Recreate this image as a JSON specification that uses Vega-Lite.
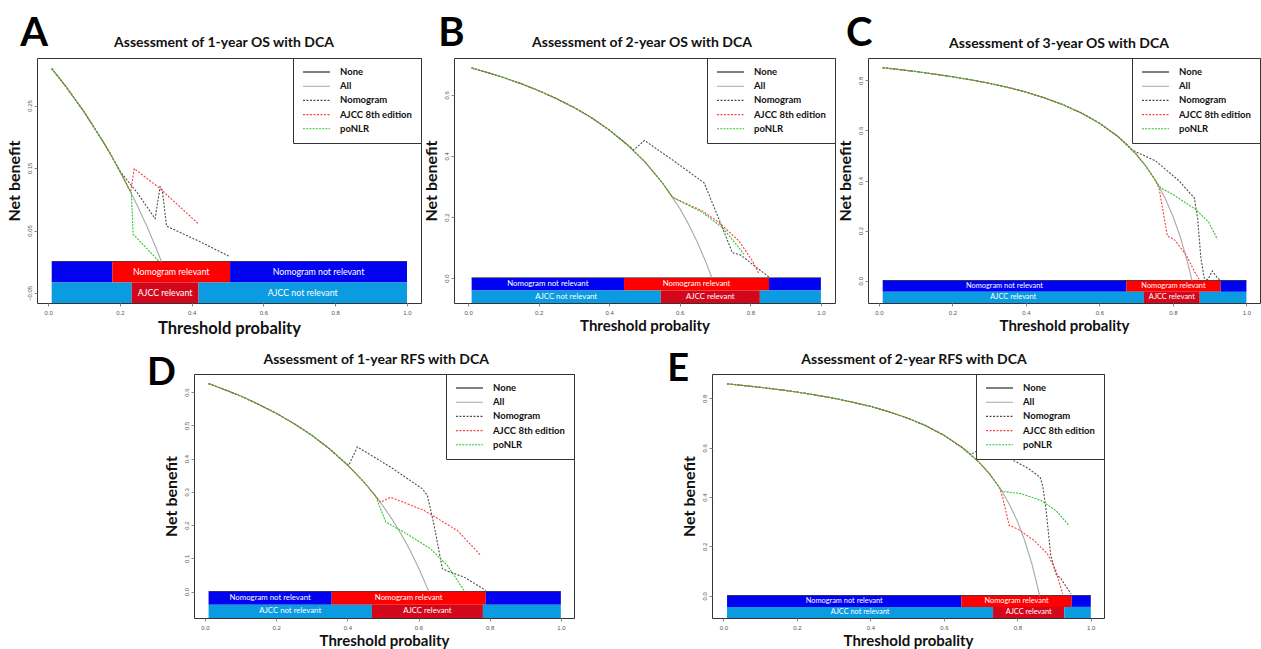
{
"$schema": "https://vega.github.io/schema/vega-lite/v6.json",
"background": "white",
"padding": {"left": 5, "top": 13, "right": 0, "bottom": 0},
"config": {
  "font": "Lato",
  "view": {"stroke": "#333", "strokeWidth": 1},
  "axis": {"domain": false, "grid": false, "ticks": true, "tickSize": 3, "tickColor": "#888", "labelFontSize": 6, "labelColor": "#555", "labelFont": "Liberation Sans", "labelOverlap": false, "labelFlush": false, "titleFont": "Lato", "titleFontWeight": "bold", "titleColor": "#111"},
  "axisX": {"labelPadding": 3, "titleFontSize": 15, "titlePadding": 3},
  "axisY": {"labelAngle": -90, "labelAlign": "center", "labelBaseline": "bottom", "labelPadding": 2, "titleFontSize": 16, "titlePadding": 4},
  "legend": {"orient": "top-right", "offset": 0, "padding": 9, "strokeColor": "#333", "fillColor": "white", "symbolType": "stroke", "symbolSize": 729, "symbolStrokeWidth": 1.2, "clipHeight": 10, "rowPadding": 4.2, "labelOffset": 9, "labelFontSize": 9.5, "labelFont": "Lato", "labelFontWeight": "bold", "labelColor": "#111", "cornerRadius": 0},
  "line": {"strokeWidth": 1.1}
},
"datasets": {
  "curvesA": [
    {"s":"None","x":0.01,"y":0},{"s":"None","x":1,"y":0},
    {"s":"All","x":0.01,"y":0.309},{"s":"All","x":0.05,"y":0.28},{"s":"All","x":0.1,"y":0.24},{"s":"All","x":0.15,"y":0.195},{"s":"All","x":0.175,"y":0.171},{"s":"All","x":0.2,"y":0.145},{"s":"All","x":0.225,"y":0.117},{"s":"All","x":0.25,"y":0.088},{"s":"All","x":0.275,"y":0.057},{"s":"All","x":0.3,"y":0.023},{"s":"All","x":0.316,"y":0},
    {"s":"Nomogram","x":0.01,"y":0.309},{"s":"Nomogram","x":0.05,"y":0.28},{"s":"Nomogram","x":0.1,"y":0.24},{"s":"Nomogram","x":0.15,"y":0.195},{"s":"Nomogram","x":0.175,"y":0.171},{"s":"Nomogram","x":0.2,"y":0.145},{"s":"Nomogram","x":0.249,"y":0.11},{"s":"Nomogram","x":0.298,"y":0.069},{"s":"Nomogram","x":0.312,"y":0.12},{"s":"Nomogram","x":0.318,"y":0.115},{"s":"Nomogram","x":0.33,"y":0.057},{"s":"Nomogram","x":0.42,"y":0.033},{"s":"Nomogram","x":0.507,"y":0.008},
    {"s":"AJCC 8th edition","x":0.01,"y":0.309},{"s":"AJCC 8th edition","x":0.05,"y":0.28},{"s":"AJCC 8th edition","x":0.1,"y":0.24},{"s":"AJCC 8th edition","x":0.15,"y":0.195},{"s":"AJCC 8th edition","x":0.175,"y":0.171},{"s":"AJCC 8th edition","x":0.2,"y":0.145},{"s":"AJCC 8th edition","x":0.225,"y":0.117},{"s":"AJCC 8th edition","x":0.23,"y":0.112},{"s":"AJCC 8th edition","x":0.24,"y":0.149},{"s":"AJCC 8th edition","x":0.31,"y":0.118},{"s":"AJCC 8th edition","x":0.42,"y":0.06},
    {"s":"poNLR","x":0.01,"y":0.309},{"s":"poNLR","x":0.05,"y":0.28},{"s":"poNLR","x":0.1,"y":0.24},{"s":"poNLR","x":0.15,"y":0.195},{"s":"poNLR","x":0.175,"y":0.171},{"s":"poNLR","x":0.2,"y":0.145},{"s":"poNLR","x":0.225,"y":0.117},{"s":"poNLR","x":0.232,"y":0.11},{"s":"poNLR","x":0.237,"y":0.044},{"s":"poNLR","x":0.31,"y":0}
  ],
  "curvesB": [
    {"s":"None","x":0.01,"y":0},{"s":"None","x":1,"y":0},
    {"s":"All","x":0.01,"y":0.688},{"s":"All","x":0.05,"y":0.675},{"s":"All","x":0.1,"y":0.657},{"s":"All","x":0.15,"y":0.637},{"s":"All","x":0.2,"y":0.614},{"s":"All","x":0.25,"y":0.588},{"s":"All","x":0.3,"y":0.559},{"s":"All","x":0.35,"y":0.525},{"s":"All","x":0.4,"y":0.485},{"s":"All","x":0.45,"y":0.438},{"s":"All","x":0.5,"y":0.382},{"s":"All","x":0.55,"y":0.313},{"s":"All","x":0.6,"y":0.228},{"s":"All","x":0.625,"y":0.176},{"s":"All","x":0.65,"y":0.117},{"s":"All","x":0.675,"y":0.049},{"s":"All","x":0.691,"y":0},
    {"s":"Nomogram","x":0.01,"y":0.688},{"s":"Nomogram","x":0.05,"y":0.675},{"s":"Nomogram","x":0.1,"y":0.657},{"s":"Nomogram","x":0.15,"y":0.637},{"s":"Nomogram","x":0.2,"y":0.614},{"s":"Nomogram","x":0.25,"y":0.588},{"s":"Nomogram","x":0.3,"y":0.559},{"s":"Nomogram","x":0.35,"y":0.525},{"s":"Nomogram","x":0.4,"y":0.485},{"s":"Nomogram","x":0.45,"y":0.438},{"s":"Nomogram","x":0.47,"y":0.42},{"s":"Nomogram","x":0.5,"y":0.451},{"s":"Nomogram","x":0.584,"y":0.383},{"s":"Nomogram","x":0.669,"y":0.312},{"s":"Nomogram","x":0.712,"y":0.19},{"s":"Nomogram","x":0.749,"y":0.083},{"s":"Nomogram","x":0.773,"y":0.075},{"s":"Nomogram","x":0.806,"y":0.045},{"s":"Nomogram","x":0.853,"y":0.003},
    {"s":"AJCC 8th edition","x":0.01,"y":0.688},{"s":"AJCC 8th edition","x":0.05,"y":0.675},{"s":"AJCC 8th edition","x":0.1,"y":0.657},{"s":"AJCC 8th edition","x":0.15,"y":0.637},{"s":"AJCC 8th edition","x":0.2,"y":0.614},{"s":"AJCC 8th edition","x":0.25,"y":0.588},{"s":"AJCC 8th edition","x":0.3,"y":0.559},{"s":"AJCC 8th edition","x":0.35,"y":0.525},{"s":"AJCC 8th edition","x":0.4,"y":0.485},{"s":"AJCC 8th edition","x":0.45,"y":0.438},{"s":"AJCC 8th edition","x":0.5,"y":0.382},{"s":"AJCC 8th edition","x":0.55,"y":0.313},{"s":"AJCC 8th edition","x":0.58,"y":0.264},{"s":"AJCC 8th edition","x":0.664,"y":0.22},{"s":"AJCC 8th edition","x":0.712,"y":0.181},{"s":"AJCC 8th edition","x":0.768,"y":0.121},{"s":"AJCC 8th edition","x":0.806,"y":0.056},{"s":"AJCC 8th edition","x":0.825,"y":0.012},
    {"s":"poNLR","x":0.01,"y":0.688},{"s":"poNLR","x":0.05,"y":0.675},{"s":"poNLR","x":0.1,"y":0.657},{"s":"poNLR","x":0.15,"y":0.637},{"s":"poNLR","x":0.2,"y":0.614},{"s":"poNLR","x":0.25,"y":0.588},{"s":"poNLR","x":0.3,"y":0.559},{"s":"poNLR","x":0.35,"y":0.525},{"s":"poNLR","x":0.4,"y":0.485},{"s":"poNLR","x":0.45,"y":0.438},{"s":"poNLR","x":0.5,"y":0.382},{"s":"poNLR","x":0.55,"y":0.313},{"s":"poNLR","x":0.58,"y":0.264},{"s":"poNLR","x":0.664,"y":0.215},{"s":"poNLR","x":0.721,"y":0.165},{"s":"poNLR","x":0.768,"y":0.099},{"s":"poNLR","x":0.782,"y":0.078}
  ],
  "curvesC": [
    {"s":"None","x":0.01,"y":0},{"s":"None","x":1,"y":0},
    {"s":"All","x":0.01,"y":0.85},{"s":"All","x":0.05,"y":0.844},{"s":"All","x":0.1,"y":0.835},{"s":"All","x":0.15,"y":0.825},{"s":"All","x":0.2,"y":0.814},{"s":"All","x":0.25,"y":0.802},{"s":"All","x":0.3,"y":0.788},{"s":"All","x":0.35,"y":0.772},{"s":"All","x":0.4,"y":0.753},{"s":"All","x":0.45,"y":0.73},{"s":"All","x":0.5,"y":0.703},{"s":"All","x":0.55,"y":0.67},{"s":"All","x":0.6,"y":0.629},{"s":"All","x":0.65,"y":0.576},{"s":"All","x":0.675,"y":0.543},{"s":"All","x":0.7,"y":0.505},{"s":"All","x":0.725,"y":0.46},{"s":"All","x":0.75,"y":0.406},{"s":"All","x":0.765,"y":0.368},{"s":"All","x":0.78,"y":0.325},{"s":"All","x":0.8,"y":0.258},{"s":"All","x":0.82,"y":0.175},{"s":"All","x":0.84,"y":0.072},{"s":"All","x":0.852,"y":0},
    {"s":"Nomogram","x":0.01,"y":0.85},{"s":"Nomogram","x":0.05,"y":0.844},{"s":"Nomogram","x":0.1,"y":0.835},{"s":"Nomogram","x":0.15,"y":0.825},{"s":"Nomogram","x":0.2,"y":0.814},{"s":"Nomogram","x":0.25,"y":0.802},{"s":"Nomogram","x":0.3,"y":0.788},{"s":"Nomogram","x":0.35,"y":0.772},{"s":"Nomogram","x":0.4,"y":0.753},{"s":"Nomogram","x":0.45,"y":0.73},{"s":"Nomogram","x":0.5,"y":0.703},{"s":"Nomogram","x":0.55,"y":0.67},{"s":"Nomogram","x":0.6,"y":0.629},{"s":"Nomogram","x":0.65,"y":0.576},{"s":"Nomogram","x":0.675,"y":0.543},{"s":"Nomogram","x":0.69,"y":0.521},{"s":"Nomogram","x":0.753,"y":0.478},{"s":"Nomogram","x":0.817,"y":0.398},{"s":"Nomogram","x":0.849,"y":0.345},{"s":"Nomogram","x":0.858,"y":0.331},{"s":"Nomogram","x":0.867,"y":0.252},{"s":"Nomogram","x":0.876,"y":0.092},{"s":"Nomogram","x":0.885,"y":0.012},{"s":"Nomogram","x":0.895,"y":0.004},{"s":"Nomogram","x":0.907,"y":0.039},{"s":"Nomogram","x":0.921,"y":0.012},{"s":"Nomogram","x":0.93,"y":0},
    {"s":"AJCC 8th edition","x":0.01,"y":0.85},{"s":"AJCC 8th edition","x":0.05,"y":0.844},{"s":"AJCC 8th edition","x":0.1,"y":0.835},{"s":"AJCC 8th edition","x":0.15,"y":0.825},{"s":"AJCC 8th edition","x":0.2,"y":0.814},{"s":"AJCC 8th edition","x":0.25,"y":0.802},{"s":"AJCC 8th edition","x":0.3,"y":0.788},{"s":"AJCC 8th edition","x":0.35,"y":0.772},{"s":"AJCC 8th edition","x":0.4,"y":0.753},{"s":"AJCC 8th edition","x":0.45,"y":0.73},{"s":"AJCC 8th edition","x":0.5,"y":0.703},{"s":"AJCC 8th edition","x":0.55,"y":0.67},{"s":"AJCC 8th edition","x":0.6,"y":0.629},{"s":"AJCC 8th edition","x":0.65,"y":0.576},{"s":"AJCC 8th edition","x":0.7,"y":0.505},{"s":"AJCC 8th edition","x":0.725,"y":0.46},{"s":"AJCC 8th edition","x":0.753,"y":0.399},{"s":"AJCC 8th edition","x":0.762,"y":0.371},{"s":"AJCC 8th edition","x":0.776,"y":0.252},{"s":"AJCC 8th edition","x":0.785,"y":0.178},{"s":"AJCC 8th edition","x":0.803,"y":0.165},{"s":"AJCC 8th edition","x":0.835,"y":0.105},{"s":"AJCC 8th edition","x":0.858,"y":0.039},{"s":"AJCC 8th edition","x":0.871,"y":0.006},
    {"s":"poNLR","x":0.01,"y":0.85},{"s":"poNLR","x":0.05,"y":0.844},{"s":"poNLR","x":0.1,"y":0.835},{"s":"poNLR","x":0.15,"y":0.825},{"s":"poNLR","x":0.2,"y":0.814},{"s":"poNLR","x":0.25,"y":0.802},{"s":"poNLR","x":0.3,"y":0.788},{"s":"poNLR","x":0.35,"y":0.772},{"s":"poNLR","x":0.4,"y":0.753},{"s":"poNLR","x":0.45,"y":0.73},{"s":"poNLR","x":0.5,"y":0.703},{"s":"poNLR","x":0.55,"y":0.67},{"s":"poNLR","x":0.6,"y":0.629},{"s":"poNLR","x":0.65,"y":0.576},{"s":"poNLR","x":0.7,"y":0.505},{"s":"poNLR","x":0.725,"y":0.46},{"s":"poNLR","x":0.753,"y":0.399},{"s":"poNLR","x":0.767,"y":0.37},{"s":"poNLR","x":0.799,"y":0.345},{"s":"poNLR","x":0.862,"y":0.285},{"s":"poNLR","x":0.898,"y":0.232},{"s":"poNLR","x":0.921,"y":0.165}
  ],
  "curvesD": [
    {"s":"None","x":0.01,"y":0},{"s":"None","x":1,"y":0},
    {"s":"All","x":0.01,"y":0.625},{"s":"All","x":0.05,"y":0.609},{"s":"All","x":0.1,"y":0.588},{"s":"All","x":0.15,"y":0.563},{"s":"All","x":0.2,"y":0.536},{"s":"All","x":0.25,"y":0.505},{"s":"All","x":0.3,"y":0.47},{"s":"All","x":0.35,"y":0.429},{"s":"All","x":0.4,"y":0.381},{"s":"All","x":0.425,"y":0.354},{"s":"All","x":0.45,"y":0.325},{"s":"All","x":0.475,"y":0.293},{"s":"All","x":0.5,"y":0.258},{"s":"All","x":0.525,"y":0.219},{"s":"All","x":0.55,"y":0.175},{"s":"All","x":0.575,"y":0.127},{"s":"All","x":0.6,"y":0.072},{"s":"All","x":0.61,"y":0.048},{"s":"All","x":0.629,"y":0},
    {"s":"Nomogram","x":0.01,"y":0.625},{"s":"Nomogram","x":0.05,"y":0.609},{"s":"Nomogram","x":0.1,"y":0.588},{"s":"Nomogram","x":0.15,"y":0.563},{"s":"Nomogram","x":0.2,"y":0.536},{"s":"Nomogram","x":0.25,"y":0.505},{"s":"Nomogram","x":0.3,"y":0.47},{"s":"Nomogram","x":0.35,"y":0.429},{"s":"Nomogram","x":0.396,"y":0.385},{"s":"Nomogram","x":0.404,"y":0.38},{"s":"Nomogram","x":0.428,"y":0.435},{"s":"Nomogram","x":0.522,"y":0.374},{"s":"Nomogram","x":0.611,"y":0.309},{"s":"Nomogram","x":0.625,"y":0.289},{"s":"Nomogram","x":0.644,"y":0.199},{"s":"Nomogram","x":0.667,"y":0.069},{"s":"Nomogram","x":0.681,"y":0.062},{"s":"Nomogram","x":0.728,"y":0.044},{"s":"Nomogram","x":0.789,"y":0.004},
    {"s":"AJCC 8th edition","x":0.01,"y":0.625},{"s":"AJCC 8th edition","x":0.05,"y":0.609},{"s":"AJCC 8th edition","x":0.1,"y":0.588},{"s":"AJCC 8th edition","x":0.15,"y":0.563},{"s":"AJCC 8th edition","x":0.2,"y":0.536},{"s":"AJCC 8th edition","x":0.25,"y":0.505},{"s":"AJCC 8th edition","x":0.3,"y":0.47},{"s":"AJCC 8th edition","x":0.35,"y":0.429},{"s":"AJCC 8th edition","x":0.4,"y":0.381},{"s":"AJCC 8th edition","x":0.425,"y":0.354},{"s":"AJCC 8th edition","x":0.45,"y":0.325},{"s":"AJCC 8th edition","x":0.475,"y":0.293},{"s":"AJCC 8th edition","x":0.48,"y":0.286},{"s":"AJCC 8th edition","x":0.494,"y":0.269},{"s":"AJCC 8th edition","x":0.522,"y":0.284},{"s":"AJCC 8th edition","x":0.616,"y":0.244},{"s":"AJCC 8th edition","x":0.709,"y":0.184},{"s":"AJCC 8th edition","x":0.775,"y":0.109},
    {"s":"poNLR","x":0.01,"y":0.625},{"s":"poNLR","x":0.05,"y":0.609},{"s":"poNLR","x":0.1,"y":0.588},{"s":"poNLR","x":0.15,"y":0.563},{"s":"poNLR","x":0.2,"y":0.536},{"s":"poNLR","x":0.25,"y":0.505},{"s":"poNLR","x":0.3,"y":0.47},{"s":"poNLR","x":0.35,"y":0.429},{"s":"poNLR","x":0.4,"y":0.381},{"s":"poNLR","x":0.425,"y":0.354},{"s":"poNLR","x":0.45,"y":0.325},{"s":"poNLR","x":0.475,"y":0.293},{"s":"poNLR","x":0.48,"y":0.286},{"s":"poNLR","x":0.508,"y":0.209},{"s":"poNLR","x":0.559,"y":0.179},{"s":"poNLR","x":0.634,"y":0.129},{"s":"poNLR","x":0.681,"y":0.079},{"s":"poNLR","x":0.728,"y":0.004}
  ],
  "curvesE": [
    {"s":"None","x":0.01,"y":0},{"s":"None","x":1,"y":0},
    {"s":"All","x":0.01,"y":0.859},{"s":"All","x":0.05,"y":0.853},{"s":"All","x":0.1,"y":0.845},{"s":"All","x":0.15,"y":0.836},{"s":"All","x":0.2,"y":0.826},{"s":"All","x":0.25,"y":0.814},{"s":"All","x":0.3,"y":0.801},{"s":"All","x":0.35,"y":0.785},{"s":"All","x":0.4,"y":0.768},{"s":"All","x":0.45,"y":0.746},{"s":"All","x":0.5,"y":0.721},{"s":"All","x":0.55,"y":0.69},{"s":"All","x":0.6,"y":0.651},{"s":"All","x":0.65,"y":0.601},{"s":"All","x":0.675,"y":0.571},{"s":"All","x":0.7,"y":0.535},{"s":"All","x":0.725,"y":0.493},{"s":"All","x":0.75,"y":0.442},{"s":"All","x":0.76,"y":0.419},{"s":"All","x":0.78,"y":0.366},{"s":"All","x":0.8,"y":0.303},{"s":"All","x":0.82,"y":0.225},{"s":"All","x":0.84,"y":0.128},{"s":"All","x":0.861,"y":0},
    {"s":"Nomogram","x":0.01,"y":0.859},{"s":"Nomogram","x":0.05,"y":0.853},{"s":"Nomogram","x":0.1,"y":0.845},{"s":"Nomogram","x":0.15,"y":0.836},{"s":"Nomogram","x":0.2,"y":0.826},{"s":"Nomogram","x":0.25,"y":0.814},{"s":"Nomogram","x":0.3,"y":0.801},{"s":"Nomogram","x":0.35,"y":0.785},{"s":"Nomogram","x":0.4,"y":0.768},{"s":"Nomogram","x":0.45,"y":0.746},{"s":"Nomogram","x":0.5,"y":0.721},{"s":"Nomogram","x":0.55,"y":0.69},{"s":"Nomogram","x":0.6,"y":0.651},{"s":"Nomogram","x":0.65,"y":0.601},{"s":"Nomogram","x":0.673,"y":0.573},{"s":"Nomogram","x":0.705,"y":0.6},{"s":"Nomogram","x":0.773,"y":0.562},{"s":"Nomogram","x":0.828,"y":0.518},{"s":"Nomogram","x":0.862,"y":0.481},{"s":"Nomogram","x":0.869,"y":0.447},{"s":"Nomogram","x":0.878,"y":0.353},{"s":"Nomogram","x":0.891,"y":0.164},{"s":"Nomogram","x":0.905,"y":0.089},{"s":"Nomogram","x":0.919,"y":0.069},{"s":"Nomogram","x":0.946,"y":0.008},
    {"s":"AJCC 8th edition","x":0.01,"y":0.859},{"s":"AJCC 8th edition","x":0.05,"y":0.853},{"s":"AJCC 8th edition","x":0.1,"y":0.845},{"s":"AJCC 8th edition","x":0.15,"y":0.836},{"s":"AJCC 8th edition","x":0.2,"y":0.826},{"s":"AJCC 8th edition","x":0.25,"y":0.814},{"s":"AJCC 8th edition","x":0.3,"y":0.801},{"s":"AJCC 8th edition","x":0.35,"y":0.785},{"s":"AJCC 8th edition","x":0.4,"y":0.768},{"s":"AJCC 8th edition","x":0.45,"y":0.746},{"s":"AJCC 8th edition","x":0.5,"y":0.721},{"s":"AJCC 8th edition","x":0.55,"y":0.69},{"s":"AJCC 8th edition","x":0.6,"y":0.651},{"s":"AJCC 8th edition","x":0.65,"y":0.601},{"s":"AJCC 8th edition","x":0.7,"y":0.535},{"s":"AJCC 8th edition","x":0.725,"y":0.493},{"s":"AJCC 8th edition","x":0.751,"y":0.44},{"s":"AJCC 8th edition","x":0.76,"y":0.4},{"s":"AJCC 8th edition","x":0.778,"y":0.285},{"s":"AJCC 8th edition","x":0.8,"y":0.272},{"s":"AJCC 8th edition","x":0.846,"y":0.224},{"s":"AJCC 8th edition","x":0.882,"y":0.17},{"s":"AJCC 8th edition","x":0.905,"y":0.103},{"s":"AJCC 8th edition","x":0.923,"y":0.008},
    {"s":"poNLR","x":0.01,"y":0.859},{"s":"poNLR","x":0.05,"y":0.853},{"s":"poNLR","x":0.1,"y":0.845},{"s":"poNLR","x":0.15,"y":0.836},{"s":"poNLR","x":0.2,"y":0.826},{"s":"poNLR","x":0.25,"y":0.814},{"s":"poNLR","x":0.3,"y":0.801},{"s":"poNLR","x":0.35,"y":0.785},{"s":"poNLR","x":0.4,"y":0.768},{"s":"poNLR","x":0.45,"y":0.746},{"s":"poNLR","x":0.5,"y":0.721},{"s":"poNLR","x":0.55,"y":0.69},{"s":"poNLR","x":0.6,"y":0.651},{"s":"poNLR","x":0.65,"y":0.601},{"s":"poNLR","x":0.7,"y":0.535},{"s":"poNLR","x":0.725,"y":0.493},{"s":"poNLR","x":0.751,"y":0.44},{"s":"poNLR","x":0.76,"y":0.423},{"s":"poNLR","x":0.81,"y":0.414},{"s":"poNLR","x":0.864,"y":0.387},{"s":"poNLR","x":0.905,"y":0.346},{"s":"poNLR","x":0.941,"y":0.285}
  ],
  "barsA": [
    {"cat":"Nomogram not relevant","x0":0.01,"x1":0.179,"ymin":-0.033,"ymax":0,"xm":0.0945,"ym":-0.0165,"label":""},
    {"cat":"Nomogram relevant","x0":0.179,"x1":0.507,"ymin":-0.033,"ymax":0,"xm":0.343,"ym":-0.0165,"label":"Nomogram relevant"},
    {"cat":"Nomogram not relevant","x0":0.507,"x1":1,"ymin":-0.033,"ymax":0,"xm":0.7535,"ym":-0.0165,"label":"Nomogram not relevant"},
    {"cat":"AJCC not relevant","x0":0.01,"x1":0.233,"ymin":-0.066,"ymax":-0.033,"xm":0.1215,"ym":-0.0495,"label":""},
    {"cat":"AJCC relevant","x0":0.233,"x1":0.419,"ymin":-0.066,"ymax":-0.033,"xm":0.326,"ym":-0.0495,"label":"AJCC relevant"},
    {"cat":"AJCC not relevant","x0":0.419,"x1":1,"ymin":-0.066,"ymax":-0.033,"xm":0.7095,"ym":-0.0495,"label":"AJCC not relevant"}
  ],
  "barsB": [
    {"cat":"Nomogram not relevant","x0":0.01,"x1":0.442,"ymin":-0.041,"ymax":0,"xm":0.226,"ym":-0.0205,"label":"Nomogram not relevant"},
    {"cat":"Nomogram relevant","x0":0.442,"x1":0.853,"ymin":-0.041,"ymax":0,"xm":0.6475,"ym":-0.0205,"label":"Nomogram relevant"},
    {"cat":"Nomogram not relevant","x0":0.853,"x1":1,"ymin":-0.041,"ymax":0,"xm":0.9265,"ym":-0.0205,"label":""},
    {"cat":"AJCC not relevant","x0":0.01,"x1":0.546,"ymin":-0.082,"ymax":-0.041,"xm":0.278,"ym":-0.0615,"label":"AJCC not relevant"},
    {"cat":"AJCC relevant","x0":0.546,"x1":0.827,"ymin":-0.082,"ymax":-0.041,"xm":0.6865,"ym":-0.0615,"label":"AJCC relevant"},
    {"cat":"AJCC not relevant","x0":0.827,"x1":1,"ymin":-0.082,"ymax":-0.041,"xm":0.9135,"ym":-0.0615,"label":""}
  ],
  "barsC": [
    {"cat":"Nomogram not relevant","x0":0.01,"x1":0.673,"ymin":-0.0445,"ymax":0,"xm":0.3415,"ym":-0.02225,"label":"Nomogram not relevant"},
    {"cat":"Nomogram relevant","x0":0.673,"x1":0.93,"ymin":-0.0445,"ymax":0,"xm":0.8015,"ym":-0.02225,"label":"Nomogram relevant"},
    {"cat":"Nomogram not relevant","x0":0.93,"x1":1,"ymin":-0.0445,"ymax":0,"xm":0.965,"ym":-0.02225,"label":""},
    {"cat":"AJCC not relevant","x0":0.01,"x1":0.721,"ymin":-0.089,"ymax":-0.0445,"xm":0.3655,"ym":-0.06675,"label":"AJCC relevant"},
    {"cat":"AJCC relevant","x0":0.721,"x1":0.873,"ymin":-0.089,"ymax":-0.0445,"xm":0.797,"ym":-0.06675,"label":"AJCC relevant"},
    {"cat":"AJCC not relevant","x0":0.873,"x1":1,"ymin":-0.089,"ymax":-0.0445,"xm":0.9365,"ym":-0.06675,"label":""}
  ],
  "barsD": [
    {"cat":"Nomogram not relevant","x0":0.01,"x1":0.356,"ymin":-0.0395,"ymax":0,"xm":0.183,"ym":-0.01975,"label":"Nomogram not relevant"},
    {"cat":"Nomogram relevant","x0":0.356,"x1":0.789,"ymin":-0.0395,"ymax":0,"xm":0.5725,"ym":-0.01975,"label":"Nomogram relevant"},
    {"cat":"Nomogram not relevant","x0":0.789,"x1":1,"ymin":-0.0395,"ymax":0,"xm":0.8945,"ym":-0.01975,"label":""},
    {"cat":"AJCC not relevant","x0":0.01,"x1":0.469,"ymin":-0.079,"ymax":-0.0395,"xm":0.2395,"ym":-0.05925,"label":"AJCC not relevant"},
    {"cat":"AJCC relevant","x0":0.469,"x1":0.781,"ymin":-0.079,"ymax":-0.0395,"xm":0.625,"ym":-0.05925,"label":"AJCC relevant"},
    {"cat":"AJCC not relevant","x0":0.781,"x1":1,"ymin":-0.079,"ymax":-0.0395,"xm":0.8905,"ym":-0.05925,"label":""}
  ],
  "barsE": [
    {"cat":"Nomogram not relevant","x0":0.01,"x1":0.648,"ymin":-0.045,"ymax":0,"xm":0.329,"ym":-0.0225,"label":"Nomogram not relevant"},
    {"cat":"Nomogram relevant","x0":0.648,"x1":0.948,"ymin":-0.045,"ymax":0,"xm":0.798,"ym":-0.0225,"label":"Nomogram relevant"},
    {"cat":"Nomogram not relevant","x0":0.948,"x1":1,"ymin":-0.045,"ymax":0,"xm":0.974,"ym":-0.0225,"label":""},
    {"cat":"AJCC not relevant","x0":0.01,"x1":0.734,"ymin":-0.09,"ymax":-0.045,"xm":0.372,"ym":-0.0675,"label":"AJCC not relevant"},
    {"cat":"AJCC relevant","x0":0.734,"x1":0.928,"ymin":-0.09,"ymax":-0.045,"xm":0.831,"ym":-0.0675,"label":"AJCC relevant"},
    {"cat":"AJCC not relevant","x0":0.928,"x1":1,"ymin":-0.09,"ymax":-0.045,"xm":0.964,"ym":-0.0675,"label":""}
  ]
},
"spacing": 13,
"resolve": {"scale": {"x": "independent", "y": "independent", "stroke": "independent", "strokeDash": "independent", "fill": "independent"}, "axis": {"x": "independent", "y": "independent"}, "legend": {"stroke": "independent", "strokeDash": "independent", "fill": "independent"}},
"vconcat": [
  {
    "bounds": "flush",
    "spacing": 33,
    "resolve": {"scale": {"x": "independent", "y": "independent", "stroke": "independent", "strokeDash": "independent", "fill": "independent"}, "axis": {"x": "independent", "y": "independent"}, "legend": {"stroke": "independent", "strokeDash": "independent", "fill": "independent"}},
    "hconcat": [
      {
        "width": 384, "height": 245,
        "layer": [
          {"data": {"name": "curvesA"}, "mark": {"type": "line"},
           "encoding": {
             "x": {"field": "x", "type": "quantitative", "scale": {"domain": [-0.031, 1.039], "nice": false, "zero": false}, "axis": {"title": "Threshold probality", "values": [0, 0.2, 0.4, 0.6, 0.8, 1], "format": ".1f", "titleFontSize": 16.5, "titlePadding": 5}},
             "y": {"field": "y", "type": "quantitative", "scale": {"domain": [-0.066, 0.326], "nice": false, "zero": false}, "axis": {"title": "Net benefit", "values": [-0.05, 0, 0.05, 0.1, 0.15, 0.2, 0.25, 0.3], "format": ".2f"}},
             "stroke": {"field": "s", "type": "nominal", "scale": {"domain": ["None", "All", "Nomogram", "AJCC 8th edition", "poNLR"], "range": ["#000000", "#a8a8a8", "#4d4d4d", "#ff3b3b", "#2bc52b"]}, "legend": {"title": null}},
             "strokeDash": {"field": "s", "type": "nominal", "scale": {"domain": ["None", "All", "Nomogram", "AJCC 8th edition", "poNLR"], "range": [[1, 0], [1, 0], [2, 1.5], [2, 1.5], [2, 1.2]]}, "legend": {"title": null}}
           }},
          {"data": {"name": "barsA"}, "mark": {"type": "rect"},
           "encoding": {
             "x": {"field": "x0", "type": "quantitative"}, "x2": {"field": "x1"},
             "y": {"field": "ymin", "type": "quantitative"}, "y2": {"field": "ymax"},
             "fill": {"field": "cat", "type": "nominal", "scale": {"domain": ["Nomogram not relevant", "Nomogram relevant", "AJCC not relevant", "AJCC relevant"], "range": ["#0202f2", "#fe0000", "#0a9be0", "#d3071c"]}, "legend": null}
           }},
          {"data": {"name": "barsA"}, "transform": [{"filter": "datum.label != ''"}],
           "mark": {"type": "text", "color": "white", "font": "Lato", "fontSize": 8.8},
           "encoding": {"x": {"field": "xm", "type": "quantitative"}, "y": {"field": "ym", "type": "quantitative"}, "text": {"field": "label"}}},
          {"data": {"values": [{"t": "Assessment of 1-year OS with DCA"}]},
           "mark": {"type": "text", "fontSize": 14, "fontWeight": "bold", "font": "Lato", "align": "center", "baseline": "alphabetic", "color": "#111"},
           "encoding": {"x": {"datum": 0.49, "type": "quantitative"}, "y": {"datum": 0.344, "type": "quantitative"}, "text": {"field": "t"}}},
          {"data": {"values": [{"letter": "A"}]},
           "mark": {"type": "text", "fontSize": 40, "fontWeight": "bold", "font": "Lato", "align": "left", "baseline": "alphabetic", "color": "#000"},
           "encoding": {"x": {"datum": -0.078, "type": "quantitative"}, "y": {"datum": 0.345, "type": "quantitative"}, "text": {"field": "letter"}}}
        ]
      },
      {
        "width": 381, "height": 245,
        "layer": [
          {"data": {"name": "curvesB"}, "mark": {"type": "line"},
           "encoding": {
             "x": {"field": "x", "type": "quantitative", "scale": {"domain": [-0.04, 1.04], "nice": false, "zero": false}, "axis": {"title": "Threshold probality", "values": [0, 0.2, 0.4, 0.6, 0.8, 1], "format": ".1f"}},
             "y": {"field": "y", "type": "quantitative", "scale": {"domain": [-0.082, 0.721], "nice": false, "zero": false}, "axis": {"title": "Net benefit", "values": [0, 0.2, 0.4, 0.6], "format": ".1f"}},
             "stroke": {"field": "s", "type": "nominal", "scale": {"domain": ["None", "All", "Nomogram", "AJCC 8th edition", "poNLR"], "range": ["#000000", "#a8a8a8", "#4d4d4d", "#ff3b3b", "#2bc52b"]}, "legend": {"title": null}},
             "strokeDash": {"field": "s", "type": "nominal", "scale": {"domain": ["None", "All", "Nomogram", "AJCC 8th edition", "poNLR"], "range": [[1, 0], [1, 0], [2, 1.5], [2, 1.5], [2, 1.2]]}, "legend": {"title": null}}
           }},
          {"data": {"name": "barsB"}, "mark": {"type": "rect"},
           "encoding": {
             "x": {"field": "x0", "type": "quantitative"}, "x2": {"field": "x1"},
             "y": {"field": "ymin", "type": "quantitative"}, "y2": {"field": "ymax"},
             "fill": {"field": "cat", "type": "nominal", "scale": {"domain": ["Nomogram not relevant", "Nomogram relevant", "AJCC not relevant", "AJCC relevant"], "range": ["#0202f2", "#fe0000", "#0a9be0", "#d3071c"]}, "legend": null}
           }},
          {"data": {"name": "barsB"}, "transform": [{"filter": "datum.label != ''"}],
           "mark": {"type": "text", "color": "white", "font": "Lato", "fontSize": 7.8},
           "encoding": {"x": {"field": "xm", "type": "quantitative"}, "y": {"field": "ym", "type": "quantitative"}, "text": {"field": "label"}}},
          {"data": {"values": [{"t": "Assessment of 2-year OS with DCA"}]},
           "mark": {"type": "text", "fontSize": 14, "fontWeight": "bold", "font": "Lato", "align": "center", "baseline": "alphabetic", "color": "#111"},
           "encoding": {"x": {"datum": 0.493, "type": "quantitative"}, "y": {"datum": 0.757, "type": "quantitative"}, "text": {"field": "t"}}},
          {"data": {"values": [{"letter": "B"}]},
           "mark": {"type": "text", "fontSize": 40, "fontWeight": "bold", "font": "Lato", "align": "left", "baseline": "alphabetic", "color": "#000"},
           "encoding": {"x": {"datum": -0.085, "type": "quantitative"}, "y": {"datum": 0.76, "type": "quantitative"}, "text": {"field": "letter"}}}
        ]
      },
      {
        "width": 392, "height": 245,
        "layer": [
          {"data": {"name": "curvesC"}, "mark": {"type": "line"},
           "encoding": {
             "x": {"field": "x", "type": "quantitative", "scale": {"domain": [-0.03, 1.037], "nice": false, "zero": false}, "axis": {"title": "Threshold probality", "values": [0, 0.2, 0.4, 0.6, 0.8, 1], "format": ".1f"}},
             "y": {"field": "y", "type": "quantitative", "scale": {"domain": [-0.089, 0.889], "nice": false, "zero": false}, "axis": {"title": "Net benefit", "values": [0, 0.2, 0.4, 0.6, 0.8], "format": ".1f"}},
             "stroke": {"field": "s", "type": "nominal", "scale": {"domain": ["None", "All", "Nomogram", "AJCC 8th edition", "poNLR"], "range": ["#000000", "#a8a8a8", "#4d4d4d", "#ff3b3b", "#2bc52b"]}, "legend": {"title": null}},
             "strokeDash": {"field": "s", "type": "nominal", "scale": {"domain": ["None", "All", "Nomogram", "AJCC 8th edition", "poNLR"], "range": [[1, 0], [1, 0], [2, 1.5], [2, 1.5], [2, 1.2]]}, "legend": {"title": null}}
           }},
          {"data": {"name": "barsC"}, "mark": {"type": "rect"},
           "encoding": {
             "x": {"field": "x0", "type": "quantitative"}, "x2": {"field": "x1"},
             "y": {"field": "ymin", "type": "quantitative"}, "y2": {"field": "ymax"},
             "fill": {"field": "cat", "type": "nominal", "scale": {"domain": ["Nomogram not relevant", "Nomogram relevant", "AJCC not relevant", "AJCC relevant"], "range": ["#0202f2", "#fe0000", "#0a9be0", "#d3071c"]}, "legend": null}
           }},
          {"data": {"name": "barsC"}, "transform": [{"filter": "datum.label != ''"}],
           "mark": {"type": "text", "color": "white", "font": "Lato", "fontSize": 7.4},
           "encoding": {"x": {"field": "xm", "type": "quantitative"}, "y": {"field": "ym", "type": "quantitative"}, "text": {"field": "label"}}},
          {"data": {"values": [{"t": "Assessment of 3-year OS with DCA"}]},
           "mark": {"type": "text", "fontSize": 14, "fontWeight": "bold", "font": "Lato", "align": "center", "baseline": "alphabetic", "color": "#111"},
           "encoding": {"x": {"datum": 0.49, "type": "quantitative"}, "y": {"datum": 0.929, "type": "quantitative"}, "text": {"field": "t"}}},
          {"data": {"values": [{"letter": "C"}]},
           "mark": {"type": "text", "fontSize": 40, "fontWeight": "bold", "font": "Lato", "align": "left", "baseline": "alphabetic", "color": "#000"},
           "encoding": {"x": {"datum": -0.09, "type": "quantitative"}, "y": {"datum": 0.937, "type": "quantitative"}, "text": {"field": "letter"}}}
        ]
      }
    ]
  },
  {
    "bounds": "flush",
    "spacing": 138,
    "resolve": {"scale": {"x": "independent", "y": "independent", "stroke": "independent", "strokeDash": "independent", "fill": "independent"}, "axis": {"x": "independent", "y": "independent"}, "legend": {"stroke": "independent", "strokeDash": "independent", "fill": "independent"}},
    "hconcat": [
      {"width": 19, "height": 244, "view": {"stroke": null}, "data": {"values": []}, "mark": "point", "encoding": {}},
      {
        "width": 380, "height": 244,
        "layer": [
          {"data": {"name": "curvesD"}, "mark": {"type": "line"},
           "encoding": {
             "x": {"field": "x", "type": "quantitative", "scale": {"domain": [-0.031, 1.037], "nice": false, "zero": false}, "axis": {"title": "Threshold probality", "values": [0, 0.2, 0.4, 0.6, 0.8, 1], "format": ".1f"}},
             "y": {"field": "y", "type": "quantitative", "scale": {"domain": [-0.079, 0.654], "nice": false, "zero": false}, "axis": {"title": "Net benefit", "values": [0, 0.1, 0.2, 0.3, 0.4, 0.5, 0.6], "format": ".1f"}},
             "stroke": {"field": "s", "type": "nominal", "scale": {"domain": ["None", "All", "Nomogram", "AJCC 8th edition", "poNLR"], "range": ["#000000", "#a8a8a8", "#4d4d4d", "#ff3b3b", "#2bc52b"]}, "legend": {"title": null}},
             "strokeDash": {"field": "s", "type": "nominal", "scale": {"domain": ["None", "All", "Nomogram", "AJCC 8th edition", "poNLR"], "range": [[1, 0], [1, 0], [2, 1.5], [2, 1.5], [2, 1.2]]}, "legend": {"title": null}}
           }},
          {"data": {"name": "barsD"}, "mark": {"type": "rect"},
           "encoding": {
             "x": {"field": "x0", "type": "quantitative"}, "x2": {"field": "x1"},
             "y": {"field": "ymin", "type": "quantitative"}, "y2": {"field": "ymax"},
             "fill": {"field": "cat", "type": "nominal", "scale": {"domain": ["Nomogram not relevant", "Nomogram relevant", "AJCC not relevant", "AJCC relevant"], "range": ["#0202f2", "#fe0000", "#0a9be0", "#d3071c"]}, "legend": null}
           }},
          {"data": {"name": "barsD"}, "transform": [{"filter": "datum.label != ''"}],
           "mark": {"type": "text", "color": "white", "font": "Lato", "fontSize": 7.8},
           "encoding": {"x": {"field": "xm", "type": "quantitative"}, "y": {"field": "ym", "type": "quantitative"}, "text": {"field": "label"}}},
          {"data": {"values": [{"t": "Assessment of 1-year RFS with DCA"}]},
           "mark": {"type": "text", "fontSize": 14, "fontWeight": "bold", "font": "Lato", "align": "center", "baseline": "alphabetic", "color": "#111"},
           "encoding": {"x": {"datum": 0.481, "type": "quantitative"}, "y": {"datum": 0.684, "type": "quantitative"}, "text": {"field": "t"}}},
          {"data": {"values": [{"letter": "D"}]},
           "mark": {"type": "text", "fontSize": 38, "fontWeight": "bold", "font": "Lato", "align": "left", "baseline": "alphabetic", "color": "#000"},
           "encoding": {"x": {"datum": -0.163, "type": "quantitative"}, "y": {"datum": 0.621, "type": "quantitative"}, "text": {"field": "letter"}}}
        ]
      },
      {
        "width": 392, "height": 244,
        "layer": [
          {"data": {"name": "curvesE"}, "mark": {"type": "line"},
           "encoding": {
             "x": {"field": "x", "type": "quantitative", "scale": {"domain": [-0.031, 1.036], "nice": false, "zero": false}, "axis": {"title": "Threshold probality", "values": [0, 0.2, 0.4, 0.6, 0.8, 1], "format": ".1f"}},
             "y": {"field": "y", "type": "quantitative", "scale": {"domain": [-0.09, 0.899], "nice": false, "zero": false}, "axis": {"title": "Net benefit", "values": [0, 0.2, 0.4, 0.6, 0.8], "format": ".1f"}},
             "stroke": {"field": "s", "type": "nominal", "scale": {"domain": ["None", "All", "Nomogram", "AJCC 8th edition", "poNLR"], "range": ["#000000", "#a8a8a8", "#4d4d4d", "#ff3b3b", "#2bc52b"]}, "legend": {"title": null}},
             "strokeDash": {"field": "s", "type": "nominal", "scale": {"domain": ["None", "All", "Nomogram", "AJCC 8th edition", "poNLR"], "range": [[1, 0], [1, 0], [2, 1.5], [2, 1.5], [2, 1.2]]}, "legend": {"title": null}}
           }},
          {"data": {"name": "barsE"}, "mark": {"type": "rect"},
           "encoding": {
             "x": {"field": "x0", "type": "quantitative"}, "x2": {"field": "x1"},
             "y": {"field": "ymin", "type": "quantitative"}, "y2": {"field": "ymax"},
             "fill": {"field": "cat", "type": "nominal", "scale": {"domain": ["Nomogram not relevant", "Nomogram relevant", "AJCC not relevant", "AJCC relevant"], "range": ["#0202f2", "#fe0000", "#0a9be0", "#d3071c"]}, "legend": null}
           }},
          {"data": {"name": "barsE"}, "transform": [{"filter": "datum.label != ''"}],
           "mark": {"type": "text", "color": "white", "font": "Lato", "fontSize": 7.4},
           "encoding": {"x": {"field": "xm", "type": "quantitative"}, "y": {"field": "ym", "type": "quantitative"}, "text": {"field": "label"}}},
          {"data": {"values": [{"t": "Assessment of 2-year RFS with DCA"}]},
           "mark": {"type": "text", "fontSize": 14, "fontWeight": "bold", "font": "Lato", "align": "center", "baseline": "alphabetic", "color": "#111"},
           "encoding": {"x": {"datum": 0.519, "type": "quantitative"}, "y": {"datum": 0.94, "type": "quantitative"}, "text": {"field": "t"}}},
          {"data": {"values": [{"letter": "E"}]},
           "mark": {"type": "text", "fontSize": 38, "fontWeight": "bold", "font": "Lato", "align": "left", "baseline": "alphabetic", "color": "#000"},
           "encoding": {"x": {"datum": -0.153, "type": "quantitative"}, "y": {"datum": 0.871, "type": "quantitative"}, "text": {"field": "letter"}}}
        ]
      }
    ]
  }
]
}
